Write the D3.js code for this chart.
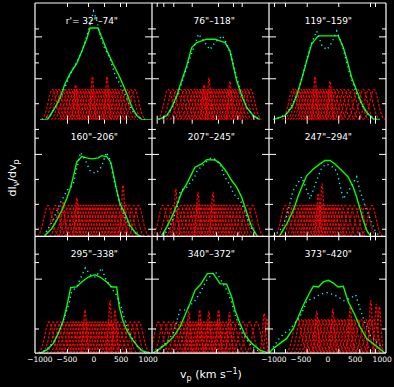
<!DOCTYPE html>
<html lang="en">
<head>
<meta charset="UTF-8">
<title>profiles</title>
<script src="https://cdn.jsdelivr.net/npm/d3@7"></script>
<style>
  body { margin: 0; background: #000; }
  svg { display: block; background: #000; }
  text { font-family: "DejaVu Sans", sans-serif; fill: #fff; }
</style>
</head>
<body>
<svg width="394" height="387"></svg>
<script>
// panel titles (row by row)
var titles = ["r'= 32\"\u201374\"", "76\"\u2013118\"", "119\"\u2013159\"",
              "160\"\u2013206\"", "207\"\u2013245\"", "247\"\u2013294\"",
              "295\"\u2013338\"", "340\"\u2013372\"", "373\"\u2013420\""];

// total profile (green), [v, dI/dv]
var green = [
  [[-988,0],[-858,0],[-803,0.034],[-711,0.103],[-618,0.188],[-526,0.308],[-434,0.393],[-305,0.487],[-212,0.59],[-120,0.70],[-65,0.786],[83,0.786],[157,0.70],[249,0.59],[360,0.48],[489,0.359],[618,0.222],[711,0.103],[803,0.034],[895,0],[1080,0]],
  [[-969,0],[-808,0.034],[-716,0.105],[-624,0.205],[-532,0.333],[-439,0.462],[-347,0.618],[-255,0.661],[-70,0.69],[83,0.69],[268,0.661],[360,0.59],[421,0.462],[484,0.333],[576,0.205],[668,0.105],[790,0.034],[914,0]],
  [[-1000,0],[-785,0.034],[-661,0.105],[-569,0.205],[-476,0.35],[-384,0.504],[-292,0.65],[-170,0.718],[199,0.718],[292,0.618],[365,0.504],[447,0.36],[539,0.248],[631,0.137],[724,0.062],[845,0.006],[969,0]],
  [[-895,0.009],[-772,0.066],[-679,0.137],[-587,0.222],[-495,0.322],[-421,0.422],[-360,0.536],[-310,0.636],[-218,0.684],[-126,0.673],[-33,0.664],[89,0.673],[151,0.692],[244,0.684],[318,0.636],[366,0.536],[415,0.422],[489,0.279],[582,0.194],[674,0.094],[766,0.037],[827,0.009],[895,0]],
  [[-901,0.009],[-808,0.08],[-716,0.165],[-624,0.265],[-532,0.379],[-439,0.45],[-347,0.536],[-286,0.593],[-162,0.621],[-70,0.658],[83,0.655],[175,0.626],[299,0.55],[391,0.479],[484,0.422],[576,0.336],[637,0.25],[698,0.165],[761,0.08],[853,0.009]],
  [[-877,0.009],[-753,0.108],[-661,0.194],[-600,0.265],[-539,0.35],[-476,0.421],[-384,0.521],[-262,0.578],[-138,0.621],[-46,0.65],[46,0.65],[138,0.621],[262,0.564],[384,0.507],[476,0.421],[539,0.336],[600,0.236],[661,0.137],[724,0.051],[785,0.009]],
  [[-988,0],[-864,0.026],[-742,0.083],[-650,0.169],[-557,0.282],[-495,0.396],[-421,0.561],[-310,0.567],[-218,0.61],[-96,0.652],[28,0.672],[120,0.652],[244,0.61],[336,0.567],[428,0.567],[476,0.396],[539,0.282],[613,0.197],[705,0.125],[797,0.068],[895,0.02],[1043,0]],
  [[-1056,0],[-932,0.04],[-808,0.083],[-687,0.139],[-563,0.225],[-471,0.325],[-378,0.425],[-286,0.538],[-181,0.59],[-59,0.681],[52,0.681],[175,0.595],[299,0.59],[391,0.481],[452,0.368],[545,0.254],[637,0.154],[761,0.083],[914,0.026],[1067,0]],
  [[-1080,0],[-1000,0.04],[-877,0.083],[-753,0.126],[-631,0.211],[-539,0.311],[-447,0.41],[-354,0.496],[-262,0.573],[-170,0.567],[-78,0.61],[15,0.624],[107,0.6],[199,0.567],[292,0.573],[384,0.439],[508,0.325],[600,0.225],[724,0.125],[877,0.068],[1061,0]]
];

// model profile (cyan dotted)
var cyan = [
  [[-950,0],[-800,0.04],[-700,0.11],[-600,0.2],[-480,0.33],[-400,0.42],[-300,0.5],[-200,0.6],[-120,0.72],[-60,0.82],[0,0.93],[60,0.85],[120,0.72],[200,0.62],[300,0.53],[400,0.38],[460,0.33],[560,0.24],[710,0.077],[850,0.02],[950,0]],
  [[-950,0],[-800,0.04],[-700,0.11],[-600,0.22],[-500,0.36],[-400,0.5],[-300,0.63],[-220,0.735],[-120,0.67],[-10,0.6],[80,0.66],[220,0.72],[300,0.65],[380,0.55],[450,0.42],[560,0.24],[660,0.11],[780,0.04],[900,0]],
  [[-1000,0],[-780,0.04],[-660,0.12],[-560,0.22],[-470,0.36],[-380,0.52],[-290,0.66],[-200,0.76],[-100,0.63],[-10,0.6],[80,0.66],[170,0.76],[270,0.64],[360,0.48],[440,0.35],[540,0.22],[640,0.12],[740,0.05],[860,0.01],[960,0]],
  [[-900,0],[-864,0.05],[-745,0.14],[-660,0.24],[-587,0.31],[-480,0.4],[-378,0.44],[-320,0.56],[-240,0.72],[-160,0.66],[-60,0.56],[50,0.54],[150,0.6],[240,0.72],[300,0.66],[360,0.52],[420,0.4],[500,0.26],[600,0.14],[700,0.06],[820,0.01]],
  [[-880,0],[-780,0.06],[-680,0.16],[-600,0.27],[-560,0.39],[-440,0.42],[-300,0.5],[-250,0.56],[-120,0.62],[0,0.67],[100,0.66],[200,0.6],[230,0.54],[380,0.42],[420,0.37],[560,0.3],[660,0.18],[760,0.07],[860,0]],
  [[-1000,0],[-880,0.05],[-760,0.16],[-637,0.39],[-476,0.51],[-400,0.42],[-323,0.32],[-200,0.48],[-107,0.59],[-20,0.62],[80,0.6],[170,0.56],[292,0.32],[400,0.4],[539,0.51],[600,0.39],[724,0.22],[877,0.05],[960,0]],
  [[-1000,0],[-870,0.03],[-740,0.09],[-640,0.18],[-540,0.3],[-440,0.44],[-420,0.51],[-300,0.58],[-150,0.73],[-60,0.67],[40,0.65],[150,0.73],[220,0.64],[300,0.58],[420,0.5],[520,0.38],[620,0.22],[720,0.12],[820,0.05],[950,0]],
  [[-1050,0],[-930,0.04],[-800,0.1],[-680,0.18],[-563,0.37],[-470,0.37],[-350,0.42],[-286,0.45],[-200,0.51],[-80,0.62],[80,0.7],[150,0.66],[299,0.54],[380,0.45],[460,0.32],[560,0.2],[660,0.12],[780,0.05],[920,0.01],[1050,0]],
  [[-1000,0.05],[-900,0.12],[-800,0.17],[-700,0.2],[-600,0.26],[-520,0.3],[-420,0.4],[-380,0.45],[-250,0.47],[-150,0.5],[-20,0.52],[120,0.5],[200,0.48],[300,0.45],[420,0.47],[520,0.5],[600,0.38],[700,0.25],[800,0.14],[900,0.1],[1000,0.05]]
];

// centres of the individual components (red dashed), km/s
var redCenters = [
  [-760,-700,-640,-580,-520,-460,-410,-360,-310,-260,-210,-160,-110,-60,-10,40,90,140,190,240,290,340,390,440,500,560,620,690,760],
  [-780,-700,-620,-550,-480,-420,-360,-300,-250,-200,-150,-100,-50,0,50,100,150,200,250,300,350,400,450,500,560,620,680,740],
  [-640,-590,-540,-490,-440,-390,-340,-290,-240,-190,-140,-90,-40,10,60,110,170,240,310,380,460,560,660,760,860],
  [-840,-700,-610,-530,-460,-400,-340,-290,-240,-190,-140,-90,-40,10,60,110,160,210,260,310,360,420,480,540,600,660,740,830],
  [-880,-780,-690,-620,-550,-480,-420,-360,-300,-250,-200,-150,-100,-50,0,50,100,150,200,250,300,360,420,480,540,600,680,780],
  [-780,-700,-630,-570,-510,-450,-400,-350,-300,-250,-200,-150,-100,-50,0,50,100,150,200,260,330,420,500,600,700,820],
  [-820,-740,-670,-600,-540,-480,-420,-370,-320,-270,-220,-170,-120,-70,-20,30,80,130,180,230,280,330,390,450,520,600,680,760,840],
  [-960,-860,-770,-690,-620,-550,-490,-430,-370,-320,-270,-220,-170,-120,-70,-20,30,80,130,180,230,290,350,420,500,600,720,850],
  [-560,-490,-420,-360,-300,-240,-180,-120,-60,0,60,120,180,240,300,360,420,480,550,620,700,780,850]
];
var redLevel = [0.26, 0.26, 0.26, 0.265, 0.265, 0.265, 0.267, 0.267, 0.29];
// taller narrow components, [v, peak]
var redSpikes = [
  [[-20,0.37],[250,0.37],[-330,0.3]],
  [[-28,0.36],[360,0.33],[-120,0.3]],
  [[-230,0.37],[46,0.33]],
  [[545,0.44],[-305,0.33],[-560,0.3]],
  [[-640,0.41],[-230,0.38],[46,0.38]],
  [[-100,0.45],[-170,0.37]],
  [[-157,0.37],[305,0.45],[397,0.37]],
  [[-400,0.36],[-200,0.37],[-30,0.36],[150,0.37],[350,0.35],[990,0.34],[1040,0.3]],
  [[-200,0.36],[100,0.38],[420,0.4],[800,0.45],[900,0.42],[960,0.4]]
];
// component shape
var bellDv = [-200,-150,-100,-50,0,50,100,150,200];
var bellRel = [0,0.12,0.4,0.8,1,0.8,0.4,0.12,0];
var spikeDv = [-70,-35,0,35,70];
var spikeRel = [0,0.45,1,0.45,0];

// ticks (per column for x, per row for y)
var xTicksBottom = [[-489,-101,101,489,600],[-993,-871,-687,101,495,790],[-988,-785,-384,199,587,785,877]];
var xTicksTop = [[-489,-101,194,489,600],[-993,-871,-687,-347,138,415,576],[-988,-785,-384,199,785,877]];
var yTicks = [[0.782,0.568,0.491,0.141],[0.921,0.846,0.493,0.279,0.066],[0.852,0.78,0.211]];
var yTicksMajor = [[0.714,0.355],[0.707],[0.638]];
var xLabels = [-1000,-500,0,500,1000];

var svg = d3.select('svg');
var padL = 35, padT = 3, pw = 117, ph = 116.7;

svg.append('defs').selectAll('clipPath')
    .data(d3.range(9)).enter()
    .append('clipPath').attr('id', function (d) { return 'c' + d; })
    .append('rect')
    .attr('x', function (d) { return padL + (d % 3) * pw; })
    .attr('y', function (d) { return padT + Math.floor(d / 3) * ph; })
    .attr('width', pw).attr('height', ph);

d3.range(9).forEach(function (p) {
    var c = p % 3, r = Math.floor(p / 3);
    var x0 = padL + c * pw, y0 = padT + r * ph;
    var x = d3.scaleLinear().domain([-1080, 1080]).range([x0, x0 + pw]);
    var y = d3.scaleLinear().domain([0, 1]).range([y0 + ph, y0]);
    var line = d3.line().x(function (d) { return x(d[0]); }).y(function (d) { return y(d[1]); });
    var smooth = d3.line().curve(d3.curveMonotoneX)
        .x(function (d) { return x(d[0]); }).y(function (d) { return y(d[1]); });

    var g = svg.append('g').attr('clip-path', 'url(#c' + p + ')');

    // components
    var comps = redCenters[p].map(function (v) {
        return bellDv.map(function (dv, i) { return [v + dv, redLevel[p] * bellRel[i]]; });
    }).concat(redSpikes[p].map(function (s) {
        return spikeDv.map(function (dv, i) { return [s[0] + dv, s[1] * spikeRel[i]]; });
    }));
    g.selectAll('.red').data(comps).enter().append('path')
        .attr('d', smooth)
        .attr('fill', 'none').attr('stroke', '#ff0000')
        .attr('stroke-width', 1.2).attr('stroke-dasharray', '2.5,1.5');

    g.append('path').datum(green[p]).attr('d', line)
        .attr('fill', 'none').attr('stroke', '#00ff00').attr('stroke-width', 1.4);

    g.append('path').datum(cyan[p]).attr('d', line)
        .attr('fill', 'none').attr('stroke', '#00ffff')
        .attr('stroke-width', 1.4).attr('stroke-dasharray', '1.2,3.5');

    // inward ticks
    var tk = svg.append('g').attr('color', '#fff');
    tk.append('g').attr('transform', 'translate(0,' + (y0 + ph) + ')')
        .call(d3.axisTop(x).tickValues(xTicksBottom[c]).tickSize(4).tickFormat(''));
    tk.append('g').attr('transform', 'translate(0,' + y0 + ')')
        .call(d3.axisBottom(x).tickValues(xTicksTop[c]).tickSize(4).tickFormat(''));
    tk.append('g').attr('transform', 'translate(' + x0 + ',0)')
        .call(d3.axisRight(y).tickValues(yTicks[r]).tickSize(4).tickFormat(''));
    tk.append('g').attr('transform', 'translate(' + x0 + ',0)')
        .call(d3.axisRight(y).tickValues(yTicksMajor[r]).tickSize(7).tickFormat(''));
    tk.append('g').attr('transform', 'translate(' + (x0 + pw) + ',0)')
        .call(d3.axisLeft(y).tickValues(yTicks[r]).tickSize(4).tickFormat(''));
    tk.append('g').attr('transform', 'translate(' + (x0 + pw) + ',0)')
        .call(d3.axisLeft(y).tickValues(yTicksMajor[r]).tickSize(7).tickFormat(''));
    tk.selectAll('.domain').remove();

    svg.append('text')
        .attr('x', x0 + pw / 2 + 24.5).attr('y', y0 + 20.5)
        .attr('text-anchor', 'end').attr('font-size', 9)
        .text(titles[p]);

    if (p === 6 || p === 8) {
        var lab = svg.append('g').attr('color', '#fff')
            .attr('transform', 'translate(0,' + (y0 + ph) + ')')
            .call(d3.axisBottom(x).tickValues(xLabels).tickSize(0).tickPadding(4)
                .tickFormat(d3.format('d')));
        lab.select('.domain').remove();
        lab.selectAll('text').attr('font-size', 7.5).attr('font-family', '"DejaVu Sans", sans-serif');
    }
});

// frame: no line between the first two rows
var frame = svg.append('g').attr('stroke', '#fff').attr('stroke-width', 1.2);
[padL, padL + pw, padL + 2 * pw, padL + 3 * pw].forEach(function (xv) {
    frame.append('line').attr('x1', xv).attr('x2', xv).attr('y1', padT).attr('y2', padT + 3 * ph);
});
[padT, padT + 2 * ph, padT + 3 * ph].forEach(function (yv) {
    frame.append('line').attr('x1', padL).attr('x2', padL + 3 * pw).attr('y1', yv).attr('y2', yv);
});

// axis titles
var xt = svg.append('text').attr('x', 211).attr('y', 378)
    .attr('text-anchor', 'middle').attr('font-size', 11);
xt.append('tspan').text('v');
xt.append('tspan').attr('dy', 3).attr('font-size', 8).text('p');
xt.append('tspan').attr('dy', -3).text(' (km s');
xt.append('tspan').attr('dy', -4).attr('font-size', 8).text('\u22121');
xt.append('tspan').attr('dy', 4).text(')');

var yt = svg.append('text').attr('transform', 'translate(16,178) rotate(-90)')
    .attr('text-anchor', 'middle').attr('font-size', 11);
yt.append('tspan').text('dI');
yt.append('tspan').attr('dy', 3).attr('font-size', 8).text('\u03bd');
yt.append('tspan').attr('dy', -3).text('/dv');
yt.append('tspan').attr('dy', 3).attr('font-size', 8).text('p');
</script>
</body>
</html>
